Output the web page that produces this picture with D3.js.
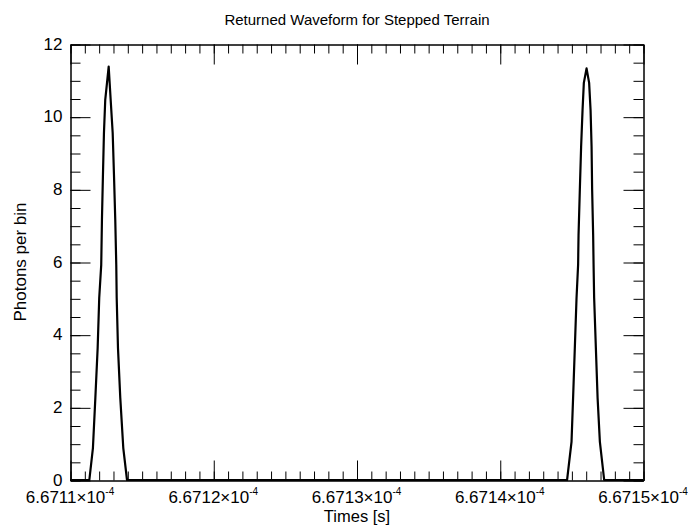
<!DOCTYPE html>
<html>
<head>
<meta charset="utf-8">
<script src="https://cdn.jsdelivr.net/npm/d3@7"></script>
<style>
body { margin: 0; background: #fff; }
text { font-family: "Liberation Sans", Arial, sans-serif; fill: #000; }
.axis path, .axis line { stroke: #000; stroke-width: 1; }
</style>
</head>
<body>
<svg id="chart" width="694" height="529"></svg>
<script>
// time offsets in units of 1e-8 s after 6.6711e-4 s, and photons per bin
var peak1Offsets = [0.135, 0.160, 0.177, 0.193, 0.204, 0.218, 0.223, 0.230, 0.237, 0.246, 0.270,
	0.284, 0.298, 0.307, 0.316, 0.323, 0.326, 0.335, 0.351, 0.372, 0.398];
var peak1Values = [0, 0.88, 2.26, 3.63, 5.01, 5.92, 7.16, 8.40, 9.55, 10.46, 11.38,
	10.46, 9.55, 8.40, 7.16, 5.92, 5.01, 3.63, 2.26, 0.88, 0];
var peak2Offsets = [3.470, 3.501, 3.512, 3.524, 3.536, 3.547, 3.550, 3.559, 3.568, 3.578, 3.587, 3.606,
	3.624, 3.634, 3.641, 3.645, 3.652, 3.655, 3.659, 3.671, 3.683, 3.699, 3.729];
var peak2Values = [0, 1.05, 2.26, 3.63, 5.01, 5.92, 6.74, 7.98, 9.17, 10.18, 10.93, 11.33,
	10.93, 10.18, 9.17, 7.98, 6.74, 5.92, 5.01, 3.63, 2.26, 1.05, 0];
var xMajorTicks = [6.6711e-4, 6.6712e-4, 6.6713e-4, 6.6714e-4, 6.6715e-4];
var xTickLabels = ["6.6711", "6.6712", "6.6713", "6.6714", "6.6715"];
var yMajorTicks = [0, 2, 4, 6, 8, 10, 12];

var t0 = 6.6711e-4;
var dataset = [{t: t0, v: 0}];
peak1Offsets.forEach(function (o, i) { dataset.push({t: t0 + o * 1e-8, v: peak1Values[i]}); });
peak2Offsets.forEach(function (o, i) { dataset.push({t: t0 + o * 1e-8, v: peak2Values[i]}); });
dataset.push({t: 6.6715e-4, v: 0});

var plotLeft = 70, plotRight = 643, plotTop = 44, plotBottom = 480;
var SVG = d3.select("#chart");

var x = d3.scaleLinear().domain([6.6711e-4, 6.6715e-4]).range([plotLeft, plotRight]);
var y = d3.scaleLinear().domain([0, 12]).range([plotBottom, plotTop]);

// minor ticks: 10 per major on x, 4 per major on y
var xMinor = d3.range(0, 41).map(function (i) { return 6.6711e-4 + i * 1e-9; });
var yMinor = d3.range(0, 25).map(function (i) { return i * 0.5; });

function noLabel() { return ""; }

// bottom
SVG.append("g").attr("class", "axis").attr("transform", "translate(0.5," + (plotBottom + 0.5) + ")")
	.call(d3.axisBottom(x).tickValues(xMinor).tickSize(-9).tickSizeOuter(0).tickFormat(noLabel));
SVG.append("g").attr("class", "axis").attr("transform", "translate(0.5," + (plotBottom + 0.5) + ")")
	.call(d3.axisBottom(x).tickValues(xMajorTicks).tickSize(-20).tickSizeOuter(0).tickFormat(noLabel));
// top
SVG.append("g").attr("class", "axis").attr("transform", "translate(0.5," + (plotTop + 0.5) + ")")
	.call(d3.axisTop(x).tickValues(xMinor).tickSize(-9).tickSizeOuter(0).tickFormat(noLabel));
SVG.append("g").attr("class", "axis").attr("transform", "translate(0.5," + (plotTop + 0.5) + ")")
	.call(d3.axisTop(x).tickValues(xMajorTicks).tickSize(-20).tickSizeOuter(0).tickFormat(noLabel));
// left
SVG.append("g").attr("class", "axis").attr("transform", "translate(" + (plotLeft + 0.5) + ",0.5)")
	.call(d3.axisLeft(y).tickValues(yMinor).tickSize(-10).tickSizeOuter(0).tickFormat(noLabel));
var yAxis = SVG.append("g").attr("class", "axis").attr("transform", "translate(" + (plotLeft + 0.5) + ",0.5)")
	.call(d3.axisLeft(y).tickValues(yMajorTicks).tickSize(-20).tickSizeOuter(0).tickPadding(8).tickFormat(d3.format("d")));
yAxis.selectAll("text").style("font-size", "17px").attr("dy", "0.28em");
// right
SVG.append("g").attr("class", "axis").attr("transform", "translate(" + (plotRight + 0.5) + ",0.5)")
	.call(d3.axisRight(y).tickValues(yMinor).tickSize(-10).tickSizeOuter(0).tickFormat(noLabel));
SVG.append("g").attr("class", "axis").attr("transform", "translate(" + (plotRight + 0.5) + ",0.5)")
	.call(d3.axisRight(y).tickValues(yMajorTicks).tickSize(-20).tickSizeOuter(0).tickFormat(noLabel));
SVG.selectAll(".axis").attr("font-family", null).attr("font-size", null);

// x tick labels with exponent
var xl = SVG.selectAll("text.xlab")
	.data(xMajorTicks)
	.enter()
	.append("text")
	.attr("class", "xlab")
	.attr("x", function (d) { return x(d); })
	.attr("y", 503)
	.attr("text-anchor", "middle")
	.style("font-size", "17px");
xl.append("tspan").text(function (d, i) { return xTickLabels[i] + "\u00d710"; });
xl.append("tspan").attr("dy", -8).style("font-size", "10px").text("-4");

// data line
var line = d3.line()
	.x(function (d) { return x(d.t); })
	.y(function (d) { return y(d.v); });
SVG.append("path")
	.datum(dataset)
	.attr("d", line)
	.attr("fill", "none")
	.attr("stroke", "#000")
	.attr("stroke-width", 2.2)
	.attr("stroke-linejoin", "round");

// titles
SVG.append("text").attr("x", 357).attr("y", 25).attr("text-anchor", "middle")
	.style("font-size", "15px").text("Returned Waveform for Stepped Terrain");
SVG.append("text").attr("x", 357).attr("y", 522).attr("text-anchor", "middle")
	.style("font-size", "16.5px").text("Times [s]");
SVG.append("text").attr("transform", "translate(26," + ((plotTop + plotBottom) / 2) + ") rotate(-90)")
	.attr("text-anchor", "middle").style("font-size", "17px").text("Photons per bin");
</script>
</body>
</html>
